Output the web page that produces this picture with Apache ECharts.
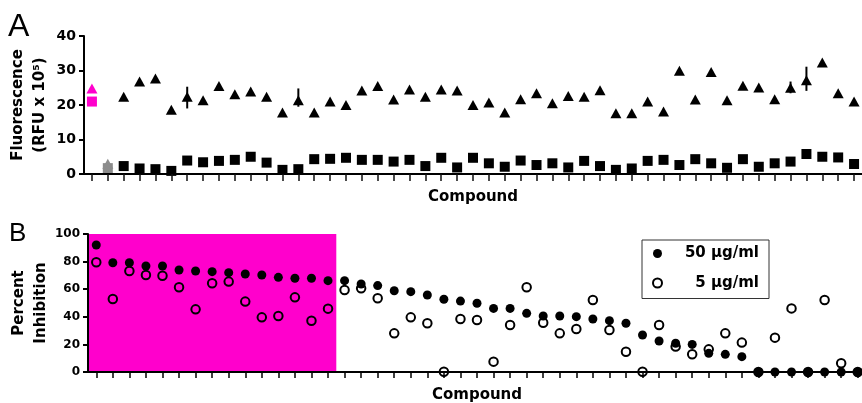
<!DOCTYPE html>
<html><head><meta charset="utf-8">
<script src="https://cdn.jsdelivr.net/npm/echarts/dist/echarts.min.js"></script>
<style>html,body{margin:0;padding:0;background:#fff}#c{width:862px;height:403px}</style>
</head><body><div id="c"></div>
<script>
// ---- Panel A data ----
const controlsA = ['Ctrl 1', 'Ctrl 2'];
const compoundsA = [];
for (let i = 1; i <= 47; i++) compoundsA.push('Cpd ' + i);
const categoriesA = controlsA.concat(compoundsA);
const triangleVals = [24.8, 3.0, 22.4, 26.8, 27.7, 18.6, 22.4, 21.4, 25.5, 23.1,
  23.9, 22.4, 17.8, 21.4, 17.8, 21.0, 20.0, 24.2, 25.5, 21.6,
  24.5, 22.4, 24.5, 24.2, 20.0, 20.7, 17.8, 21.7, 23.4, 20.5,
  22.6, 22.4, 24.3, 17.6, 17.6, 21.0, 18.1, 29.9, 21.6, 29.6,
  21.4, 25.6, 25.1, 21.7, 25.0, 27.2, 32.3, 23.4, 21.0];
const squareVals = [21.0, 1.7, 2.3, 1.6, 1.4, 0.9, 3.9, 3.4, 3.8, 4.1,
  5.0, 3.3, 1.2, 1.4, 4.3, 4.4, 4.7, 4.1, 4.1, 3.6,
  4.1, 2.3, 4.7, 1.9, 4.7, 3.1, 2.1, 3.9, 2.6, 3.1,
  1.9, 3.8, 2.3, 1.2, 1.6, 3.8, 4.1, 2.6, 4.3, 3.1,
  1.8, 4.3, 2.1, 3.1, 3.6, 5.8, 5.0, 4.8, 2.9];
// [category index, low, high]
const errorBarsA = [[6, 19.0, 25.3], [13, 19.5, 24.8], [44, 23.4, 26.8], [45, 24.1, 31.1]];

// ---- Panel B data ----
const categoriesB = [];
for (let i = 1; i <= 47; i++) categoriesB.push('Cpd ' + i);
const inhib50 = [92.0, 79.2, 79.2, 76.8, 76.8, 73.9, 73.2, 72.7, 72.0, 71.0,
  70.3, 68.6, 67.9, 67.9, 66.2, 66.2, 63.8, 62.6, 58.9, 58.2,
  55.8, 52.7, 51.4, 49.8, 46.1, 46.1, 42.5, 40.6, 40.6, 40.1,
  38.4, 37.2, 35.3, 26.8, 22.5, 20.8, 20.0, 13.5, 12.8, 11.1,
  0, 0, 0, 0, 0, 0, 0];
const inhib5 = [79.5, 52.9, 73.2, 70.3, 69.8, 61.4, 45.4, 64.3, 65.5, 51.0,
  39.6, 40.6, 54.1, 37.2, 45.9, 59.4, 60.6, 53.4, 28.0, 39.6,
  35.3, 0.2, 38.4, 37.7, 7.5, 34.1, 61.4, 35.7, 28.0, 31.2,
  52.2, 30.4, 14.7, 0.2, 34.1, 18.4, 12.8, 16.4, 28.0, 21.3,
  0, 24.9, 46.1, 0, 52.2, 6.3, 0];
// highlighted compounds: [first index, last index, top value]
const highlightB = [[0, 14, 100]];

const PINK = '#ff00cc';
const GRAY = '#8c8c8c';
const F = "'DejaVu Sans', sans-serif";

const chart = echarts.init(document.getElementById('c'), null, {renderer: 'canvas'});

function xAxisCfg(grid, data, tickLen, tickColor) {
  return {
    type: 'category', gridIndex: grid, data: data, boundaryGap: true, z: 10,
    axisLine: {show: true, onZero: false, lineStyle: {color: '#000', width: 2}},
    axisTick: {show: true, inside: false, alignWithLabel: true, interval: 0, length: tickLen, lineStyle: {color: tickColor, width: 1.5}},
    axisLabel: {show: true, interval: 0, formatter: () => '', fontSize: 1},
    splitLine: {show: false},
    name: 'Compound', nameLocation: 'middle', nameGap: 16,
    nameTextStyle: {fontFamily: F, fontWeight: 'bold', fontSize: 15, color: '#000'}
  };
}
function yAxisCfg(grid, max, interval, labelSize, name, gap) {
  return {
    type: 'value', gridIndex: grid, min: 0, max: max, interval: interval, z: 10,
    axisLine: {show: true, lineStyle: {color: '#000', width: 2}},
    axisTick: {show: true, length: 5, lineStyle: {color: '#000', width: 2}},
    splitLine: {show: false},
    axisLabel: {fontFamily: F, fontWeight: 'bold', fontSize: labelSize, color: '#000', margin: 8},
    name: name, nameLocation: 'middle', nameRotate: 90, nameGap: gap, nameMoveOverlap: false,
    nameTextStyle: {fontFamily: F, fontWeight: 'bold', fontSize: 15, color: '#000', lineHeight: 22, align: 'center'}
  };
}

const triData = triangleVals.map((v, i) => i === 0 ? {value: v, itemStyle: {color: PINK}} : (i === 1 ? {value: v, itemStyle: {color: GRAY}} : v));
const sqData = squareVals.map((v, i) => i === 0 ? {value: v, itemStyle: {color: PINK}} : (i === 1 ? {value: v, itemStyle: {color: GRAY}} : v));

chart.setOption({
  animation: false,
  backgroundColor: '#fff',
  title: [
    {text: 'A', left: 8, top: 11, padding: 0, textStyle: {fontFamily: "'Liberation Sans', Arial, sans-serif", fontWeight: 'normal', fontSize: 32, color: '#000'}},
    {text: 'B', left: 9, top: 221, padding: 0, textStyle: {fontFamily: "'Liberation Sans', Arial, sans-serif", fontWeight: 'normal', fontSize: 26, color: '#000'}}
  ],
  grid: [
    {left: 84, top: 36, width: 778, height: 138, outerBoundsMode: 'none', containLabel: false},
    {left: 88, top: 234, width: 778, height: 138, outerBoundsMode: 'none', containLabel: false}
  ],
  xAxis: [xAxisCfg(0, categoriesA, 7, '#111111'), xAxisCfg(1, categoriesB, 6, '#000000')],
  yAxis: [
    yAxisCfg(0, 40, 10, 14, 'Fluorescence\n(RFU x 10\u2075)', 33),
    yAxisCfg(1, 100, 20, 12, 'Percent\nInhibition', 36)
  ],
  legend: {
    orient: 'vertical', left: 642, top: 240,
    data: ['50 \u03bcg/ml', '5 \u03bcg/ml'],
    itemWidth: 9, itemHeight: 9, itemGap: 14.5,
    padding: [6, 10, 8, 10],
    borderColor: '#333', borderWidth: 1,
    formatter: name => '{t|' + name + '}',
    textStyle: {rich: {t: {width: 92, align: 'right', fontFamily: F, fontWeight: 'bold', fontSize: 15, lineHeight: 18, color: '#000'}}}
  },
  series: [
    {type: 'scatter', xAxisIndex: 0, yAxisIndex: 0, symbol: 'rect', symbolSize: 10, data: sqData, itemStyle: {color: '#000', opacity: 1}, z: 3},
    {type: 'custom', xAxisIndex: 0, yAxisIndex: 0, data: errorBarsA, z: 4,
      encode: {x: 0, y: [1, 2]},
      renderItem: function (params, api) {
        const x = api.value(0);
        const lo = api.coord([x, api.value(1)]);
        const hi = api.coord([x, api.value(2)]);
        return {type: 'line', shape: {x1: lo[0], y1: lo[1], x2: hi[0], y2: hi[1]}, style: {stroke: '#000', lineWidth: 2}};
      }},
    {type: 'scatter', xAxisIndex: 0, yAxisIndex: 0, symbol: 'triangle', symbolSize: [11, 10], data: triData, itemStyle: {color: '#000', opacity: 1}, z: 5},
    {type: 'custom', xAxisIndex: 1, yAxisIndex: 1, data: highlightB, silent: true, z: 1,
      encode: {x: [0, 1], y: 2},
      renderItem: function (params, api) {
        const topLeft = api.coord([api.value(0), api.value(2)]);
        const bottomRight = api.coord([api.value(1), 0]);
        const bw = api.size([1, 0])[0];
        return {type: 'rect', shape: {x: topLeft[0] - bw / 2, y: topLeft[1], width: bottomRight[0] - topLeft[0] + bw, height: bottomRight[1] - topLeft[1]}, style: {fill: PINK}};
      }},
    {name: '50 \u03bcg/ml', type: 'scatter', xAxisIndex: 1, yAxisIndex: 1, symbol: 'circle', symbolSize: 9, data: inhib50, itemStyle: {color: '#000', opacity: 1}, z: 3},
    {name: '5 \u03bcg/ml', type: 'scatter', xAxisIndex: 1, yAxisIndex: 1, symbol: 'circle', symbolSize: 8.5, data: inhib5, itemStyle: {color: 'rgba(0,0,0,0)', borderColor: '#000', borderWidth: 2, opacity: 1}, z: 4}
  ]
});
</script>
</body></html>
